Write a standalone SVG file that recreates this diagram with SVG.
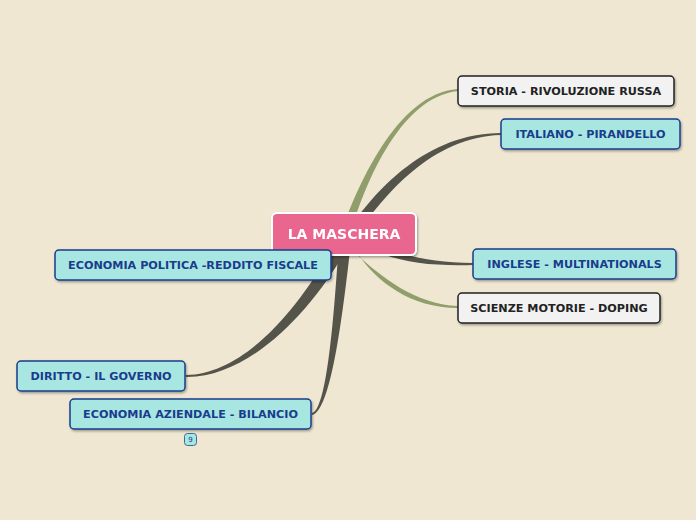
<svg xmlns="http://www.w3.org/2000/svg" width="696" height="520" viewBox="0 0 696 520">
<defs>
<filter id="sh" x="-10%" y="-20%" width="120%" height="150%">
<feDropShadow dx="1" dy="1.5" stdDeviation="1" flood-color="#000" flood-opacity="0.35"/>
</filter>
<style>
.t{font-family:"DejaVu Sans",Verdana,sans-serif;font-weight:bold;font-size:11.2px;text-anchor:middle;dominant-baseline:central}
.cy rect{fill:#A8E6E2;stroke:#1A3C8C;stroke-width:1.5}
.cy text{fill:#1A3C8C}
.gr rect{fill:#F2F2F2;stroke:#222;stroke-width:1.5}
.gr text{fill:#222}
.dk{fill:#55544A}
.gn{fill:#8F9E6A}
</style>
</defs>
<rect width="696" height="520" fill="#EFE7D2"/>
<g id="connectors">
<path class="gn" d="M340,235 C356,190 396,93 458,89 L458,91 C398,97 362,192 350,235 Z"/>
<path class="dk" d="M345,235 C376,188 428,133 501,133 L501,135 C432,137 385,194 355,237 Z"/>
<path class="dk" d="M370,241 C400,256 430,262 473,263 L473,265 C430,266 400,263 368,248 Z"/>
<path class="gn" d="M345,244 C372,268 408,304 458,306 L458,308 C406,308 370,276 353,246 Z"/>
<path class="dk" d="M335,242 C305,300 248,374 186,375 L186,377 C252,378 316,305 347,248 Z"/>
<path class="dk" d="M339,240 C335,300 328,410 312,413 L312,415 C332,412 344,302 351,242 Z"/>
<path d="M331,264 C335,264 336,259 340,256" fill="none" stroke="#55544A" stroke-width="1"/>
</g>
<g id="n-center" filter="url(#sh)">
<rect x="272" y="213" width="144" height="42" rx="5" fill="#E9668F" stroke="#FFFFFF" stroke-width="2"/>
<text class="t" x="344" y="234" fill="#FFFFFF" style="font-size:14px">LA MASCHERA</text>
</g>
<g id="n-storia" class="gr">
<rect x="458" y="76" width="216" height="30" rx="4" filter="url(#sh)"/>
<text class="t" x="566" y="91">STORIA - RIVOLUZIONE RUSSA</text>
</g>
<g id="n-italiano" class="cy">
<rect x="501" y="119" width="179" height="30" rx="4" filter="url(#sh)"/>
<text class="t" x="590.5" y="134">ITALIANO - PIRANDELLO</text>
</g>
<g id="n-inglese" class="cy">
<rect x="473" y="249" width="203" height="30" rx="4" filter="url(#sh)"/>
<text class="t" x="574.5" y="264">INGLESE - MULTINATIONALS</text>
</g>
<g id="n-scienze" class="gr">
<rect x="458" y="293" width="202" height="30" rx="4" filter="url(#sh)"/>
<text class="t" x="559" y="308">SCIENZE MOTORIE - DOPING</text>
</g>
<g id="n-ecopol" class="cy">
<rect x="55" y="250" width="276" height="30" rx="4" filter="url(#sh)"/>
<text class="t" x="193" y="265">ECONOMIA POLITICA -REDDITO FISCALE</text>
</g>
<g id="n-diritto" class="cy">
<rect x="17" y="361" width="168" height="30" rx="4" filter="url(#sh)"/>
<text class="t" x="101" y="376">DIRITTO - IL GOVERNO</text>
</g>
<g id="n-ecoaz" class="cy">
<rect x="70" y="399" width="241" height="30" rx="4" filter="url(#sh)"/>
<text class="t" x="190.5" y="414">ECONOMIA AZIENDALE - BILANCIO</text>
</g>
<g id="badge" class="cy">
<rect x="184.5" y="433.5" width="12" height="12" rx="3" style="stroke-width:1;stroke:#3A6A9C"/>
<text class="t" x="190.5" y="439.5" style="font-size:7px;font-weight:normal">9</text>
</g>
</svg>
